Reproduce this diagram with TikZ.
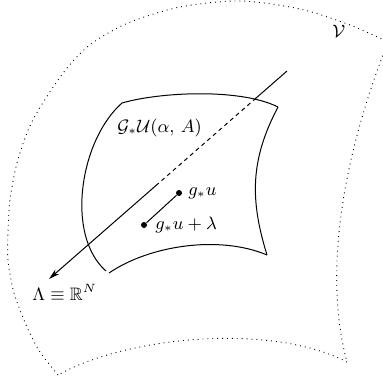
\documentclass[tikz,border=0pt]{standalone}
\usepackage{amssymb}
\usetikzlibrary{arrows.meta,calc}
\begin{document}
\begin{tikzpicture}[x=0.5pt,y=-0.5pt,
  edgeline/.style={line width=0.5pt},
  outline/.style={line width=0.45pt,dotted},
  lab/.style={inner sep=0pt,anchor=base west,font=\fontsize{9}{11}\selectfont},
  dot/.style={circle,fill=black,inner sep=0pt,minimum size=3pt}
]
\useasboundingbox (0,0) rectangle (383,381);
\begin{scope}
\clip (0,0) rectangle (383,381);
% outer dotted region V
\draw[outline] plot[smooth] coordinates {(58,375) (40,352) (27,327) (14,293) (8,260) (8,233) (10,200) (17,163) (29,128) (44,101) (67,68) (91,44) (128,23) (180,7) (240,1) (300,9) (350,25) (388,42)};
\draw[outline] (388,42) .. controls (345,150) and (322,270) .. (347,362);
\draw[outline] (347,362) .. controls (270,322) and (125,337) .. (58,375);
\end{scope}
% inner patch
\draw[edgeline] (122,103) .. controls (160,92) and (240,88) .. (278,107);
\draw[edgeline] (278,107) .. controls (250,160) and (250,200) .. (267,255);
\draw[edgeline] (267,255) .. controls (220,235) and (150,245) .. (109,273);
\draw[edgeline] (122,103) .. controls (80,140) and (65,235) .. (106,271);
% the line Lambda
\coordinate (top) at (287,71);
\coordinate (tip) at (49,279);
\coordinate (cross) at ($(top)!0.13!(tip)$);
\coordinate (dend) at ($(top)!0.546!(tip)$);
\draw[edgeline] (top) -- (cross);
\draw[edgeline,dash pattern=on 2pt off 1.8pt] (cross) -- (dend);
\draw[edgeline,-{Stealth[length=5.5pt,width=3pt]}] (dend) -- (tip);
% points
\node[dot] (gu) at (179,193) {};
\node[dot] (gul) at (144,225) {};
\draw[edgeline] (gu) -- (gul);
% labels
\node[lab] (lgu) at (188,195) {$g_*u$};
\node[lab] (lgul) at (155,229) {$g_*u+\lambda$};
\node[lab] (lGU) at (117,132) {$\mathcal{G}_*\mathcal{U}(\alpha,\,A)$};
\node[lab] (lL) at (32,300) {$\Lambda\equiv\mathbb{R}^N$};
\node[lab] (lV) at (332,37) {$\mathcal{V}$};
\end{tikzpicture}
\end{document}
